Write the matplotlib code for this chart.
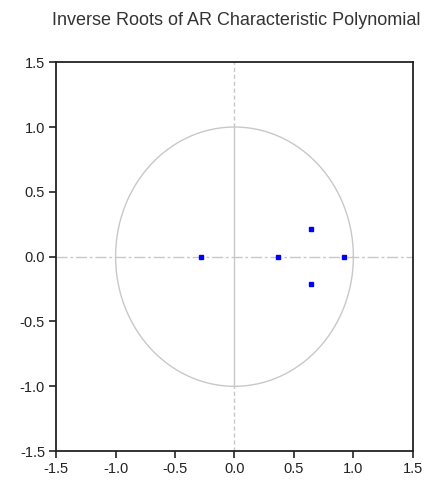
import matplotlib
matplotlib.use('Agg')
import matplotlib.pyplot as plt
import numpy as np

plt.rcParams['font.family'] = ['Liberation Sans', 'DejaVu Sans']

# inverse roots (real, imaginary)
root_re = [-0.28, 0.37, 0.64, 0.64, 0.92]
root_im = [0.0, 0.0, 0.21, -0.21, 0.0]
ticks = [-1.5, -1.0, -0.5, 0.0, 0.5, 1.0, 1.5]
tick_labels = ['-1.5', '-1.0', '-0.5', '0.0', '0.5', '1.0', '1.5']

fig = plt.figure(figsize=(4.42, 4.82), dpi=100)
ax = fig.add_axes([0.127, 0.064, 0.807, 0.807])

grey = '#c8c8c8'
t = np.linspace(0, 2 * np.pi, 400)
ax.plot(np.cos(t), np.sin(t), color=grey, lw=1.0)

# zero lines
ax.plot([-1.5, 1.5], [0, 0], color=grey, lw=1.0, ls=(0, (8, 2, 2, 2)))
ax.plot([0, 0], [1.0, 1.5], color=grey, lw=1.0, ls=(0, (3, 2)))
ax.plot([0, 0], [-1.0, 1.0], color=grey, lw=1.0)
ax.plot([0, 0], [-1.5, -1.0], color=grey, lw=1.0, ls=(0, (3, 2)))

ax.plot(root_re, root_im, 's', color='#0000ff', markersize=3, zorder=5)

ax.set_xlim(-1.5, 1.5)
ax.set_ylim(-1.5, 1.5)
ax.set_xticks(ticks)
ax.set_xticklabels(tick_labels)
ax.set_yticks(ticks)
ax.set_yticklabels(tick_labels)
ax.tick_params(direction='out', length=5, width=1.2, labelsize=10.5, colors='#222222', pad=3)
for s in ax.spines.values():
    s.set_linewidth(1.3)
    s.set_color('#222222')

fig.text(0.535, 0.957, 'Inverse Roots of AR Characteristic Polynomial', ha='center', va='center',
         fontsize=13, color='#333333')

fig.savefig('out.png', dpi=100)
